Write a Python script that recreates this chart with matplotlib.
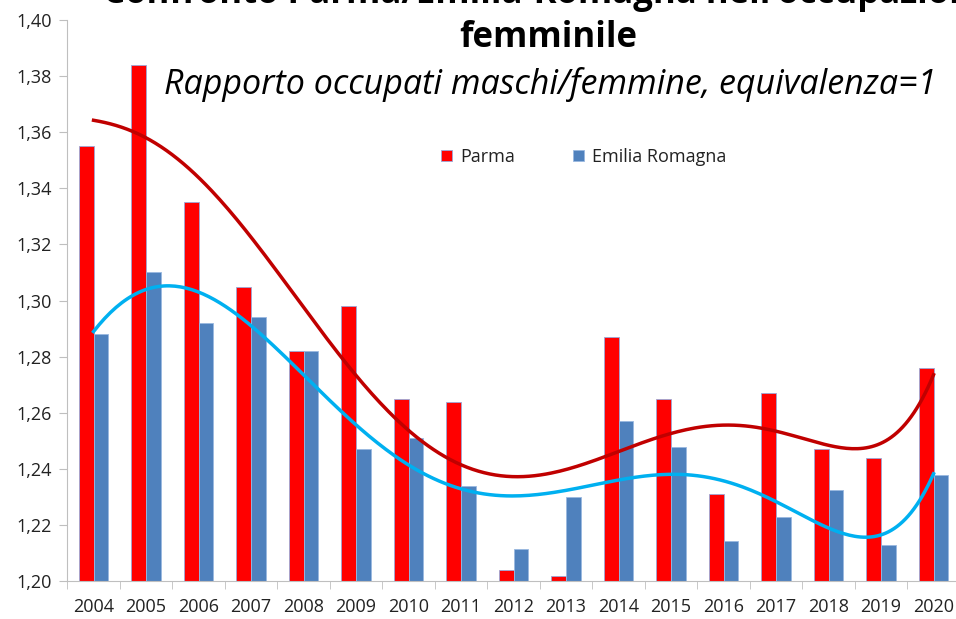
import numpy as np
import matplotlib
matplotlib.use("Agg")
from matplotlib import pyplot as plt
from matplotlib.ticker import FixedLocator, FuncFormatter

years = [str(y) for y in range(2004, 2021)]
parma = [1.355, 1.384, 1.335, 1.305, 1.282, 1.298, 1.265, 1.264, 1.204, 1.202,
         1.287, 1.265, 1.231, 1.267, 1.247, 1.244, 1.276]
emilia = [1.288, 1.310, 1.292, 1.294, 1.282, 1.247, 1.251, 1.234, 1.2115, 1.230,
          1.257, 1.248, 1.2145, 1.223, 1.2325, 1.213, 1.238]
series_names = ["Parma", "Emilia Romagna"]
title_lines = ["Confronto Parma/Emilia-Romagna nell'occupazione", "femminile"]
subtitle = "Rapporto occupati maschi/femmine, equivalenza=1"

plt.rcParams["font.family"] = ["Open Sans", "DejaVu Sans"]

fig = plt.figure(figsize=(9.56, 6.19), dpi=100)
ax = fig.add_axes([67.3 / 956, 1 - 581.3 / 619, 892.5 / 956, (581.3 - 19.8) / 619])

x = np.arange(len(years))
w = 0.28
ax.bar(x - w, parma, width=w, align="edge", color="#ff0000",
       edgecolor="#9aa8d8", linewidth=0.6, label=series_names[0], zorder=2)
ax.bar(x, emilia, width=w, align="edge", color="#4f81bd",
       edgecolor="#9ab8e0", linewidth=0.6, label=series_names[1], zorder=2)

# polynomial trend lines (6th order, like the spreadsheet)
xs = np.linspace(0, len(years) - 1, 300)
for vals, col in ((parma, "#c00000"), (emilia, "#00b0f0")):
    coef = np.polyfit(x + 1, vals, 6)
    ax.plot(xs, np.polyval(coef, xs + 1), color=col, linewidth=2.5, zorder=3)

ax.set_xlim(-0.5, len(years) - 0.5)
ax.set_ylim(1.20, 1.40)
ax.set_yticks(np.arange(1.20, 1.401, 0.02))
ax.yaxis.set_major_formatter(FuncFormatter(lambda v, p: f"{v:.2f}".replace(".", ",")))
ax.set_xticks(x)
ax.set_xticklabels(years)
ax.xaxis.set_minor_locator(FixedLocator(np.arange(-0.5, len(years), 1)))
ax.tick_params(axis="x", which="major", length=0, pad=12, labelsize=13, labelcolor="#222222")
ax.tick_params(axis="x", which="minor", length=6, color="#bfbfbf", direction="out")
ax.tick_params(axis="y", length=6, color="#bfbfbf", labelsize=13, pad=5, labelcolor="#222222")
for s in ("top", "right"):
    ax.spines[s].set_visible(False)
for s in ("left", "bottom"):
    ax.spines[s].set_color("#bfbfbf")

ax.legend(loc="center left", bbox_to_anchor=(425 / 956, 1 - 157 / 619),
          bbox_transform=fig.transFigure, ncol=2, frameon=False, fontsize=13,
          handlelength=0.6, handleheight=0.6, handletextpad=0.45, columnspacing=3.2,
          labelcolor="#222222")

fig.text(548 / 956, 1 - (-6) / 619, title_lines[0], ha="center", va="center",
         fontsize=25, fontweight="bold")
fig.text(548 / 956, 1 - 38 / 619, title_lines[1], ha="center", va="center",
         fontsize=25, fontweight="bold")
fig.text(550 / 956, 1 - 84 / 619, subtitle, ha="center", va="center", fontsize=24.5,
         fontstyle="italic")

fig.savefig("out.png", dpi=100)
